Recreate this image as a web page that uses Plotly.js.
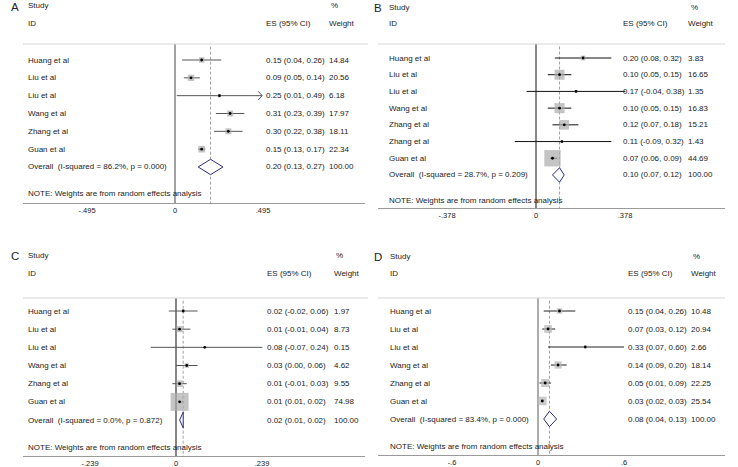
<!DOCTYPE html>
<html><head><meta charset="utf-8">
<script src="https://cdn.plot.ly/plotly-3.0.1.min.js"></script>
<style>html,body{margin:0;padding:0;background:#fff}#chart{width:738px;height:467px}</style>
</head><body><div id="chart"></div>
<script>
// ---------- DATA ----------
const studiesA = ["Huang et al","Liu et al","Liu et al","Wang et al","Zhang et al","Guan et al"];
const esA = [0.15,0.09,0.25,0.31,0.30,0.15];
const loA = [0.04,0.05,0.01,0.23,0.22,0.13];
const hiA = [0.26,0.14,0.49,0.39,0.38,0.17];
const wA  = [14.84,20.56,6.18,17.97,18.11,22.34];
const arrowA = [false,false,true,false,false,false];
const overallA = [0.20,0.13,0.27];
const hetA = ["86.2%","0.000"];
const ticksA = [-0.495,0,0.495];
const tickTextA = ["-.495","0",".495"];

const studiesB = ["Huang et al","Liu et al","Liu et al","Wang et al","Zhang et al","Zhang et al","Guan et al"];
const esB = [0.20,0.10,0.17,0.10,0.12,0.11,0.07];
const loB = [0.08,0.05,-0.04,0.05,0.07,-0.09,0.06];
const hiB = [0.32,0.15,0.38,0.15,0.18,0.32,0.09];
const wB  = [3.83,16.65,1.35,16.83,15.21,1.43,44.69];
const arrowB = [false,false,false,false,false,false,false];
const overallB = [0.10,0.07,0.12];
const hetB = ["28.7%","0.209"];
const ticksB = [-0.378,0,0.378];
const tickTextB = ["-.378","0",".378"];

const studiesC = ["Huang et al","Liu et al","Liu et al","Wang et al","Zhang et al","Guan et al"];
const esC = [0.02,0.01,0.08,0.03,0.01,0.01];
const loC = [-0.02,-0.01,-0.07,0.00,-0.01,0.01];
const hiC = [0.06,0.04,0.24,0.06,0.03,0.02];
const wC  = [1.97,8.73,0.15,4.62,9.55,74.98];
const arrowC = [false,false,false,false,false,false];
const overallC = [0.02,0.01,0.02];
const hetC = ["0.0%","0.872"];
const ticksC = [-0.239,0,0.239];
const tickTextC = ["-.239","0",".239"];

const studiesD = ["Huang et al","Liu et al","Liu et al","Wang et al","Zhang et al","Guan et al"];
const esD = [0.15,0.07,0.33,0.14,0.05,0.03];
const loD = [0.04,0.03,0.07,0.09,0.01,0.02];
const hiD = [0.26,0.12,0.60,0.20,0.09,0.03];
const wD  = [10.48,20.94,2.66,18.14,22.25,25.54];
const arrowD = [false,false,false,false,false,false];
const overallD = [0.08,0.04,0.13];
const hetD = ["83.4%","0.000"];
const ticksD = [-0.6,0,0.6];
const tickTextD = ["-.6","0",".6"];

const panelLetters = ["A","B","C","D"];
const headStudy = "Study", headID = "ID", headPct = "%", headES = "ES (95% CI)", headW = "Weight";
const noteText = "NOTE: Weights are from random effects analysis";

// ---------- LAYOUT GEOMETRY (pixels) ----------
const W = 738, H = 467;
const FONT = "'Liberation Sans', Arial, sans-serif";
const panels = [
  {studies:studiesA, es:esA, lo:loA, hi:hiA, w:wA, arrow:arrowA, ov:overallA, het:hetA, ticks:ticksA, tt:tickTextA,
   g:{x0:23,x1:365,sepX1:368,zeroX:175,tickX:263,sepY:44,axisY:203,row0:60,step:17.83,letterX:9,studyX:26,esX:264,wX:327,pctX:329,h1:6,h2:23},
   s:{ci:"#555",zero:"#8a8a8a",zw:1.6,box:"#a9a9a9",k:1.4}},
  {studies:studiesB, es:esB, lo:loB, hi:hiB, w:wB, arrow:arrowB, ov:overallB, het:hetB, ticks:ticksB, tt:tickTextB,
   g:{x0:378,x1:725,sepX1:725,zeroX:536,tickX:625,sepY:44,axisY:208,row0:58,step:16.71,letterX:372,studyX:387,esX:621,wX:686,pctX:689,h1:7,h2:24},
   s:{ci:"#111",zero:"#111",zw:1,box:"#ababab",k:2.45}},
  {studies:studiesC, es:esC, lo:loC, hi:hiC, w:wC, arrow:arrowC, ov:overallC, het:hetC, ticks:ticksC, tt:tickTextC,
   g:{x0:23,x1:365,sepX1:368,zeroX:176,tickX:262,sepY:298,axisY:456,row0:311,step:18.17,letterX:9,studyX:26,esX:265,wX:332,pctX:334,h1:255,h2:273},
   s:{ci:"#555",zero:"#444",zw:1.3,box:"#ababab",k:2.08}},
  {studies:studiesD, es:esD, lo:loD, hi:hiD, w:wD, arrow:arrowD, ov:overallD, het:hetD, ticks:ticksD, tt:tickTextD,
   g:{x0:378,x1:725,sepX1:725,zeroX:538,tickX:624,sepY:298,axisY:455,row0:311,step:18,letterX:372,studyX:388,esX:626,wX:689,pctX:691,h1:256,h2:273},
   s:{ci:"#222",zero:"#999",zw:1.6,box:"#b5b5b5",k:1.7}}
];

const traces = [], shapes = [], annotations = [];
const layout = {width:W, height:H, margin:{l:0,r:0,t:0,b:0}, paper_bgcolor:"#fff", plot_bgcolor:"rgba(0,0,0,0)",
  showlegend:false, font:{family:FONT, size:8, color:"#222"}};
const fmt = v => v.toFixed(2);
const nb = s => s.replace(/ /g, "\u00a0");

panels.forEach((p, idx) => {
  const sfx = idx === 0 ? "" : String(idx + 1);
  const xa = "x" + sfx, ya = "y" + sfx;
  const g = p.g, n = p.studies.length;
  const scale = (g.tickX - g.zeroX) / p.ticks[2];
  const xr = [(g.x0 - g.zeroX) / scale, (g.x1 - g.zeroX) / scale];
  const yTop = -(g.row0 - g.sepY) / g.step, yBot = (g.axisY - g.row0) / g.step;
  layout["xaxis" + sfx] = {domain:[g.x0 / W, g.x1 / W], range:xr, anchor:ya, showgrid:false, zeroline:false,
    showline:true, linecolor:"#9a9a9a", linewidth:1, ticks:"",
    tickvals:p.ticks, ticktext:p.tt, tickfont:{size:7.5, color:"#222", family:FONT}, fixedrange:true};
  layout["yaxis" + sfx] = {domain:[1 - g.axisY / H, 1 - g.sepY / H], range:[yBot, yTop], anchor:xa, visible:false, fixedrange:true};

  // CI lines
  const lx = [], ly = [];
  p.lo.forEach((l, i) => { lx.push(l, p.hi[i], null); ly.push(i, i, null); });
  traces.push({type:"scatter", mode:"lines", x:lx, y:ly, xaxis:xa, yaxis:ya, line:{color:p.s.ci, width:1}, hoverinfo:"skip"});
  // boxes
  traces.push({type:"scatter", mode:"markers", x:p.es, y:p.es.map((_, i) => i), xaxis:xa, yaxis:ya,
    marker:{symbol:"square", size:p.w.map(v => p.s.k * Math.sqrt(v)), color:p.s.box, line:{width:0}}, hoverinfo:"skip"});
  // center points
  traces.push({type:"scatter", mode:"markers", x:p.es, y:p.es.map((_, i) => i), xaxis:xa, yaxis:ya,
    marker:{symbol:"circle", size:2.8, color:"#000"}, hoverinfo:"skip"});
  // arrows for clipped CIs
  const ax = [], ay = [];
  p.arrow.forEach((f, i) => { if (f) { const dx = 4 / scale; ax.push(p.hi[i] - dx, p.hi[i], p.hi[i] - dx, null); ay.push(i - 0.25, i, i + 0.25, null); } });
  if (ax.length) traces.push({type:"scatter", mode:"lines", x:ax, y:ay, xaxis:xa, yaxis:ya, line:{color:p.s.ci, width:1}, hoverinfo:"skip"});
  // overall diamond
  const [oe, ol, oh] = p.ov;
  traces.push({type:"scatter", mode:"lines", x:[ol, oe, oh, oe, ol], y:[n, n - 0.43, n, n + 0.43, n], xaxis:xa, yaxis:ya,
    fill:"toself", fillcolor:"#fff", line:{color:"#2b2b7e", width:1}, hoverinfo:"skip"});

  // zero line, overall dashed line, separator
  shapes.push({type:"line", xref:xa, yref:ya, x0:0, x1:0, y0:yTop, y1:yBot, line:{color:p.s.zero, width:p.s.zw}, layer:"below"});
  shapes.push({type:"line", xref:xa, yref:ya, x0:oe, x1:oe, y0:yTop + 0.15, y1:yBot, line:{color:"#8a8a8a", width:0.8, dash:"3px,2px"}, layer:"below"});
  shapes.push({type:"line", xref:"paper", yref:"paper", x0:g.x0 / W, x1:g.sepX1 / W, y0:1 - g.sepY / H, y1:1 - g.sepY / H, line:{color:"#d6d6d6", width:1}});

  const txt = (text, xpx, y, yref, size, anchor) => annotations.push({text:nb(text), x:xpx / W, xref:"paper", y:y, yref:yref,
    xanchor:anchor || "left", yanchor:"middle", showarrow:false, font:{size:size || 8, color:"#222", family:FONT}});
  // headers
  txt(panelLetters[idx], g.letterX, 1 - (g.h1 + 1) / H, "paper", 11.5);
  txt(headStudy, g.studyX, 1 - g.h1 / H, "paper");
  txt(headPct, g.pctX, 1 - g.h1 / H, "paper");
  txt(headID, g.studyX, 1 - g.h2 / H, "paper");
  txt(headES, g.esX, 1 - g.h2 / H, "paper");
  txt(headW, g.wX, 1 - g.h2 / H, "paper");
  // rows
  p.studies.forEach((s, i) => {
    txt(s, g.studyX, i, ya);
    txt(fmt(p.es[i]) + " (" + fmt(p.lo[i]) + ", " + fmt(p.hi[i]) + ")", g.esX, i, ya);
    txt(fmt(p.w[i]), g.wX, i, ya);
  });
  const totalW = p.w.reduce((a, b) => a + b, 0);
  txt("Overall  (I-squared = " + p.het[0] + ", p = " + p.het[1] + ")", g.studyX, n, ya);
  txt(fmt(oe) + " (" + fmt(ol) + ", " + fmt(oh) + ")", g.esX, n, ya);
  txt((Math.round(totalW / 10) * 10).toFixed(2), g.wX, n, ya);
  txt(noteText, g.studyX, n + 1.5, ya);
});

layout.shapes = shapes;
layout.annotations = annotations;
Plotly.newPlot("chart", traces, layout, {staticPlot:true, displayModeBar:false});
</script></body></html>
